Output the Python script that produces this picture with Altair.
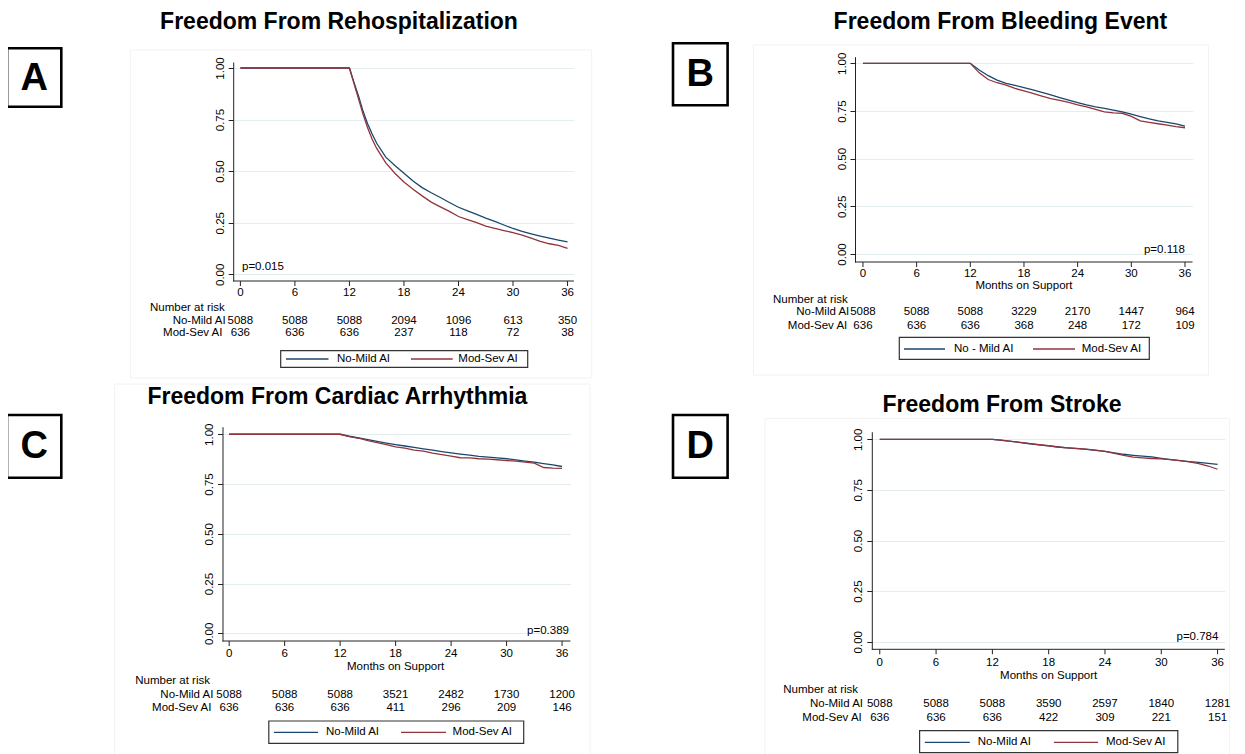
import altair as alt
import pandas as pd

# ---------------- data ----------------
tick_months = [0, 6, 12, 18, 24, 30, 36]
y_ticks = [0, 0.25, 0.5, 0.75, 1.0]
group_names = ["No-Mild AI", "Mod-Sev AI"]

# A: Freedom From Rehospitalization
rehosp_months = [0, 12, 12.5, 13, 13.5, 14, 14.5, 15, 16, 17, 18, 19, 20, 21, 22, 23, 24,
                 25, 26, 27, 28, 29, 30, 31, 32, 33, 34, 35, 36]
rehosp_nomild = [1.0, 1.0, 0.93, 0.865, 0.79, 0.73, 0.68, 0.635, 0.568, 0.527, 0.49, 0.452,
                 0.42, 0.395, 0.372, 0.348, 0.325, 0.307, 0.29, 0.272, 0.256, 0.239, 0.222,
                 0.208, 0.196, 0.185, 0.175, 0.166, 0.157]
rehosp_modsev = [1.0, 1.0, 0.925, 0.85, 0.775, 0.71, 0.655, 0.61, 0.54, 0.49, 0.447, 0.412,
                 0.38, 0.35, 0.327, 0.305, 0.28, 0.265, 0.25, 0.233, 0.222, 0.212, 0.202,
                 0.19, 0.175, 0.16, 0.148, 0.14, 0.126]
rehosp_risk_nomild = [5088, 5088, 5088, 2094, 1096, 613, 350]
rehosp_risk_modsev = [636, 636, 636, 237, 118, 72, 38]

# B: Freedom From Bleeding Event
km_months = [0, 12, 13, 14, 15, 16, 17, 18, 19, 20, 21, 22, 23, 24, 25, 26, 27, 28, 29, 30,
             31, 32, 33, 34, 35, 36]
bleed_nomild = [1.0, 1.0, 0.965, 0.935, 0.912, 0.895, 0.884, 0.872, 0.86, 0.847, 0.834, 0.82,
                0.807, 0.794, 0.782, 0.772, 0.764, 0.755, 0.745, 0.733, 0.72, 0.708, 0.698,
                0.69, 0.682, 0.67]
bleed_modsev = [1.0, 1.0, 0.95, 0.915, 0.898, 0.885, 0.868, 0.855, 0.842, 0.828, 0.815, 0.805,
                0.795, 0.782, 0.772, 0.758, 0.745, 0.74, 0.738, 0.722, 0.698, 0.69, 0.683,
                0.676, 0.668, 0.662]
bleed_risk_nomild = [5088, 5088, 5088, 3229, 2170, 1447, 964]
bleed_risk_modsev = [636, 636, 636, 368, 248, 172, 109]

# C: Freedom From Cardiac Arrhythmia
arrh_nomild = [1.0, 1.0, 0.99, 0.982, 0.973, 0.964, 0.956, 0.948, 0.941, 0.934, 0.927, 0.92,
               0.913, 0.906, 0.9, 0.895, 0.889, 0.885, 0.881, 0.877, 0.871, 0.865, 0.86,
               0.853, 0.846, 0.838]
arrh_modsev = [1.0, 1.0, 0.988, 0.98, 0.968, 0.958, 0.948, 0.937, 0.93, 0.92, 0.915, 0.905,
               0.898, 0.89, 0.882, 0.881, 0.877, 0.875, 0.872, 0.868, 0.865, 0.86, 0.855,
               0.833, 0.83, 0.829]
arrh_risk_nomild = [5088, 5088, 5088, 3521, 2482, 1730, 1200]
arrh_risk_modsev = [636, 636, 636, 411, 296, 209, 146]

# D: Freedom From Stroke
stroke_nomild = [1.0, 1.0, 0.995, 0.99, 0.984, 0.978, 0.972, 0.967, 0.962, 0.958, 0.954, 0.95,
                 0.945, 0.94, 0.933, 0.926, 0.921, 0.917, 0.913, 0.906, 0.9, 0.895, 0.89,
                 0.886, 0.881, 0.876]
stroke_modsev = [1.0, 1.0, 0.996, 0.99, 0.985, 0.979, 0.973, 0.968, 0.962, 0.958, 0.955, 0.951,
                 0.946, 0.94, 0.93, 0.92, 0.912, 0.908, 0.905, 0.903, 0.9, 0.895, 0.888,
                 0.88, 0.868, 0.852]
stroke_risk_nomild = [5088, 5088, 5088, 3590, 2597, 1840, 1281]
stroke_risk_modsev = [636, 636, 636, 422, 309, 221, 151]

# ---------------- style ----------------
FONT = "Liberation Sans"
BLUE = "#1a476f"
RED = "#90353b"
AXC = "#222222"
GRID = "#e4eef0"
FS = 11.5
M = 8
W, H = 1229, 746


def v(p):
    return p - M


base = alt.Chart(pd.DataFrame({"k": [0]}))


def txt(s, x, y, size=FS, bold=False, align="center"):
    return base.mark_text(text=s, font=FONT, fontSize=size,
                          fontWeight="bold" if bold else "normal",
                          align=align, baseline="middle", color="#000").encode(
        x=alt.value(v(x)), y=alt.value(v(y)))


def rect(x1, x2, y1, y2, stroke, sw, fill="white", fop=1.0):
    return base.mark_rect(fill=fill, fillOpacity=fop, stroke=stroke, strokeWidth=sw).encode(
        x=alt.value(v(x1)), x2=alt.value(v(x2)), y=alt.value(v(y1)), y2=alt.value(v(y2)))


def hline(x1, x2, y, color):
    return base.mark_rule(color=color, strokeWidth=1.3).encode(
        x=alt.value(v(x1)), x2=alt.value(v(x2)), y=alt.value(v(y)))


color_scale = alt.Scale(domain=group_names, range=[BLUE, RED])


def make_panel(months, nomild, modsev, risk1, risk2, g):
    xs = alt.Scale(domain=g["xdom"], range=[v(g["xpx"][0]), v(g["xpx"][1])], nice=False, zero=False)
    ys = alt.Scale(domain=g["ydom"], range=[v(g["ypx"][0]), v(g["ypx"][1])], nice=False, zero=False)
    yaxis = alt.Axis(orient="left", offset=-v(g["xpx"][0]), values=y_ticks, format=".2f",
                     title=None, grid=True, gridColor=GRID, gridWidth=1.2, tickSize=5,
                     tickColor=AXC, domainColor=AXC, labelFont=FONT, labelFontSize=FS,
                     labelColor="#000", labelAngle=270, labelAlign="center",
                     labelBaseline="bottom", labelPadding=3, labelFlush=False,
                     labelOverlap=False)
    layers = []
    # blue first, red drawn on top (as in the reference); both share the same y axis
    for name, vals in ((group_names[0], nomild), (group_names[1], modsev)):
        df = pd.DataFrame({"month": months, "surv": vals, "group": [name] * len(months)})
        layers.append(alt.Chart(df).mark_line(strokeWidth=1.3).encode(
            x=alt.X("month:Q", scale=xs, axis=None),
            y=alt.Y("surv:Q", scale=ys, axis=yaxis),
            color=alt.Color("group:N", scale=color_scale, legend=None),
        ))

    # x axis (domain line, ticks, labels) drawn through the panel's x scale
    bottom = v(g["ypx"][0])
    dom_df = pd.DataFrame({"month": [g["xdom"][0]], "month_end": [g["xdom"][1]]})
    layers.append(alt.Chart(dom_df).mark_rule(color=AXC, strokeWidth=1).encode(
        x=alt.X("month:Q", scale=xs, axis=None), x2="month_end:Q", y=alt.value(bottom)))
    tk = pd.DataFrame({"month": tick_months})
    layers.append(alt.Chart(tk).mark_rule(color=AXC, strokeWidth=1).encode(
        x=alt.X("month:Q", scale=xs, axis=None), y=alt.value(bottom), y2=alt.value(bottom + 5)))
    layers.append(alt.Chart(tk).mark_text(font=FONT, fontSize=FS, baseline="middle",
                                          align="center", color="#000").encode(
        x=alt.X("month:Q", scale=xs, axis=None), y=alt.value(v(g["tick_y"])),
        text=alt.Text("month:Q", format="d")))

    for vals, yy in ((risk1, g["row_y"][0]), (risk2, g["row_y"][1])):
        df = pd.DataFrame({"month": tick_months, "n": vals})
        layers.append(alt.Chart(df).mark_text(font=FONT, fontSize=FS, baseline="middle",
                                              align="center", color="#000").encode(
            x=alt.X("month:Q", scale=xs, axis=None),
            y=alt.value(v(yy)),
            text=alt.Text("n:Q", format="d")))
    if g.get("months_y"):
        df = pd.DataFrame({"month": [18], "label": ["Months on Support"]})
        layers.append(alt.Chart(df).mark_text(font=FONT, fontSize=FS, baseline="middle",
                                              align="center", color="#000").encode(
            x=alt.X("month:Q", scale=xs, axis=None),
            y=alt.value(v(g["months_y"])), text="label:N"))
    layers.append(txt("Number at risk", g["nar"][0], g["nar"][1], align="left"))
    layers.append(txt(group_names[0], g["lab_right"][0], g["row_y"][0], align="right"))
    layers.append(txt(group_names[1], g["lab_right"][1], g["row_y"][1], align="right"))
    layers.append(txt(g["p"], g["p_pos"][0], g["p_pos"][1], align=g["p_align"]))
    return alt.layer(*layers)


def decorations(g):
    out = [
        txt(g["title"], g["title_pos"][0], g["title_pos"][1], size=23, bold=True),
        rect(*g["box"], stroke="#000", sw=2.6),
        txt(g["letter"], (g["box"][0] + g["box"][1]) / 2, (g["box"][2] + g["box"][3]) / 2 + 1,
            size=38, bold=True),
    ]
    lb = g["leg_box"]
    out.append(rect(*lb, stroke="#333", sw=1.2))
    ly = g["leg_y"]
    out.append(hline(g["leg_l1"][0], g["leg_l1"][1], ly, BLUE))
    out.append(txt(g["leg_t1"], g["leg_x1"], ly, align="left"))
    out.append(hline(g["leg_l2"][0], g["leg_l2"][1], ly, RED))
    out.append(txt(group_names[1], g["leg_x2"], ly, align="left"))
    return out


GA = dict(xdom=[-0.79, 36.7], xpx=[233.2, 573.9], ydom=[-0.0325, 1.029], ypx=[281, 62],
          tick_y=293, row_y=[320.7, 333.3], months_y=None, nar=(150, 308),
          lab_right=(225.7, 222.5),
          p="p=0.015", p_pos=(242, 267), p_align="left",
          title="Freedom From Rehospitalization", title_pos=(339, 21.7), letter="A",
          box=(7.1, 61.3, 48.3, 106.7), frame=(130.4, 591.7, 50, 378),
          leg_box=(280.7, 527.7, 350.7, 367.3), leg_y=359, leg_l1=(286, 328.5), leg_x1=337,
          leg_t1="No-Mild AI", leg_l2=(411, 452.7), leg_x2=458.3)
GB = dict(xdom=[-0.89, 36.84], xpx=[855, 1192.5], ydom=[-0.042, 1.0346], ypx=[262, 56.7],
          tick_y=273.5, row_y=[312.3, 326], months_y=286, nar=(773, 300),
          lab_right=(849.3, 847.3),
          p="p=0.118", p_pos=(1185, 250), p_align="right",
          title="Freedom From Bleeding Event", title_pos=(1000.4, 21.5), letter="B",
          box=(673, 727.6, 43.3, 105.3), frame=(753.5, 1208.5, 45, 375),
          leg_box=(899.3, 1149.3, 337.3, 359.3), leg_y=349, leg_l1=(904, 945), leg_x1=954,
          leg_t1="No - Mild AI", leg_l2=(1033, 1075), leg_x2=1081.7)
GC = dict(xdom=[-0.72, 36.9], xpx=[222.5, 570.4], ydom=[-0.0387, 1.038], ypx=[641, 426.7],
          tick_y=654, row_y=[694.7, 708.3], months_y=666.7, nar=(135.2, 681),
          lab_right=(213.4, 211.5),
          p="p=0.389", p_pos=(569, 630.7), p_align="right",
          title="Freedom From Cardiac Arrhythmia", title_pos=(337.4, 396.7), letter="C",
          box=(7, 61.3, 415, 477.7), frame=(114.6, 590, 384, 800),
          leg_box=(268.8, 523.7, 721, 743.3), leg_y=732.3, leg_l1=(274, 318), leg_x1=326,
          leg_t1="No-Mild AI", leg_l2=(401, 446), leg_x2=452.6)
GD = dict(xdom=[-0.85, 36.77], xpx=[871.8, 1224.8], ydom=[-0.0375, 1.0375], ypx=[649.3, 431.7],
          tick_y=662.7, row_y=[704, 718.3], months_y=676, nar=(783.3, 690),
          lab_right=(863, 861.8),
          p="p=0.784", p_pos=(1218.4, 637), p_align="right",
          title="Freedom From Stroke", title_pos=(1002, 405), letter="D",
          box=(673, 727.6, 415, 477.7), frame=(765, 1229.6, 418.3, 800),
          leg_box=(919.6, 1177.8, 730.7, 752.7), leg_y=742.3, leg_l1=(924.8, 969.8), leg_x1=977.8,
          leg_t1="No-Mild AI", leg_l2=(1054, 1098), leg_x2=1106)

frames = [rect(*g["frame"], stroke="#f2f2f2", sw=1, fill="white", fop=0.0) for g in (GA, GB, GC, GD)]

panels = [
    make_panel(rehosp_months, rehosp_nomild, rehosp_modsev, rehosp_risk_nomild, rehosp_risk_modsev, GA),
    make_panel(km_months, bleed_nomild, bleed_modsev, bleed_risk_nomild, bleed_risk_modsev, GB),
    make_panel(km_months, arrh_nomild, arrh_modsev, arrh_risk_nomild, arrh_risk_modsev, GC),
    make_panel(km_months, stroke_nomild, stroke_modsev, stroke_risk_nomild, stroke_risk_modsev, GD),
]

decor = []
for g in (GA, GB, GC, GD):
    decor += decorations(g)

chart = alt.layer(*frames, *panels, *decor).resolve_scale(
    x="independent", y="independent"
).resolve_axis(
    x="independent", y="independent"
).properties(
    width=W, height=H, padding=0,
    autosize=alt.AutoSizeParams(type="none"),
    background="white",
).configure_view(strokeWidth=0)

chart.save("out.html", embed_options={"renderer": "svg", "actions": False})
